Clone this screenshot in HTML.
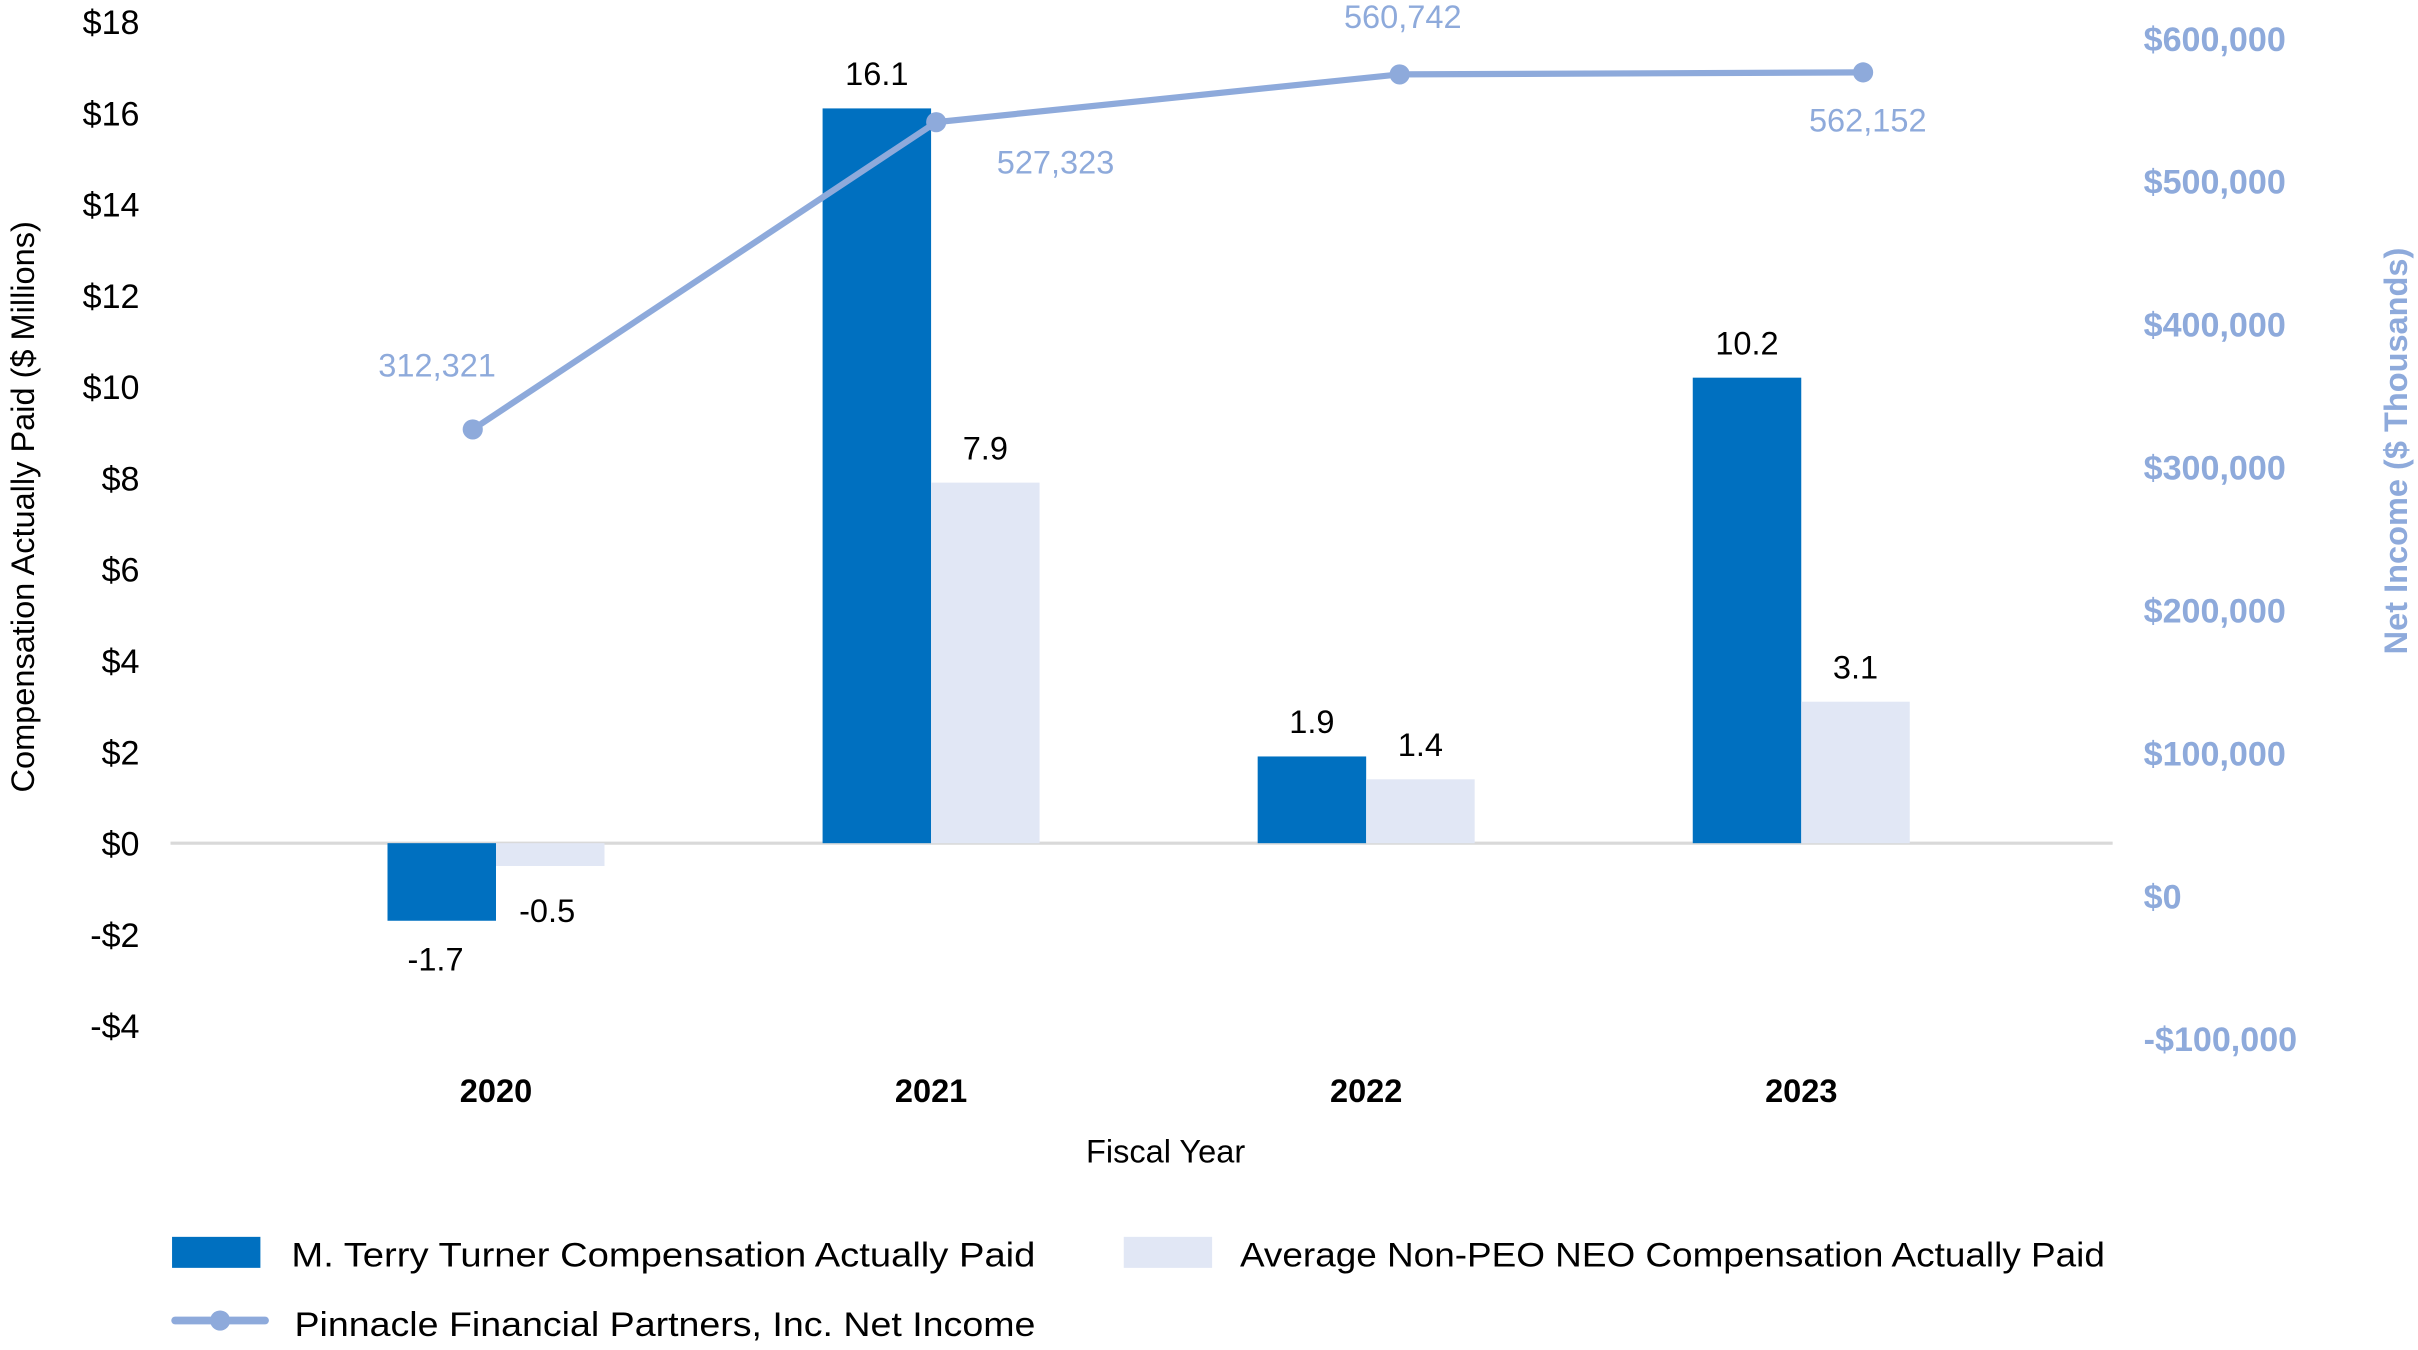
<!DOCTYPE html>
<html><head><meta charset="utf-8"><style>
html,body{margin:0;padding:0;background:#fff}
svg{display:block}
text{font-family:"Liberation Sans",sans-serif}
</style></head><body>
<svg id="chart" width="2418" height="1350" viewBox="0 0 1560 871" preserveAspectRatio="none" xmlns="http://www.w3.org/2000/svg">
<g id="g"></g>
</svg>
<script>
const categories = ["2020","2021","2022","2023"];
const turnerValues = [-1.7, 16.1, 1.9, 10.2];
const neoValues = [-0.5, 7.9, 1.4, 3.1];
const netIncome = [312321, 527323, 560742, 562152];
const netIncomeLabels = ["312,321","527,323","560,742","562,152"];
const leftTicks = [18,16,14,12,10,8,6,4,2,0,-2,-4];
const rightTicks = [600000,500000,400000,300000,200000,100000,0,-100000];

const NS = "http://www.w3.org/2000/svg";
const g = document.getElementById('g');
function el(tag, attrs, text){
  const e = document.createElementNS(NS, tag);
  for (const k in attrs) e.setAttribute(k, attrs[k]);
  if (text !== undefined) e.textContent = text;
  g.appendChild(e);
  return e;
}
// axis functions
const yL = v => 544 - v * (530/18);
const yR = v => 565 - v * (92.2/100000);
const xC = i => 320 + i * 280.7;
const xLine = i => 305 + i * 299;
const BW = 70;
const fmtMoney = v => (v < 0 ? "-$" : "$") + Math.abs(v).toLocaleString("en-US");

// left ticks
leftTicks.forEach(v => {
  const t = el('text', {x: 90, y: yL(v) + 8, 'text-anchor': 'end', 'font-size': 22, fill: '#000'}, fmtMoney(v));
  
  
});
// right ticks
rightTicks.forEach(v => {
  const t = el('text', {x: 1383, y: yR(v) + 21, 'text-anchor': 'start', 'font-size': 22, 'font-weight': 'bold', fill: '#8eaadb'}, fmtMoney(v));
  
  
});
// zero line
const zl = el('line', {x1: 110, x2: 1363, y1: yL(0), y2: yL(0), stroke: '#d9d9d9', 'stroke-width': 2});



// bars
categories.forEach((c, i) => {
  const cx = xC(i);
  const v1 = turnerValues[i], v2 = neoValues[i];
  const b1 = el('rect', {x: cx - BW, y: Math.min(yL(v1), yL(0)), width: BW, height: Math.abs(yL(v1) - yL(0)), fill: '#0070c0'});
  
  
  const b2 = el('rect', {x: cx, y: Math.min(yL(v2), yL(0)), width: BW, height: Math.abs(yL(v2) - yL(0)), fill: '#e1e7f5'});
  
  
  const l1y = v1 >= 0 ? yL(v1) - 15 : yL(v1) + 32;
  const l1 = el('text', {x: cx - BW/2 + (v1 < 0 ? -4 : 0), y: l1y, 'text-anchor': 'middle', 'font-size': 21, fill: '#000'}, v1.toFixed(1));
  
  
  const l2y = v2 >= 0 ? yL(v2) - 15 : yL(v2) + 36;
  const l2 = el('text', {x: cx + BW/2 + (v2 < 0 ? -2 : 0), y: l2y, 'text-anchor': 'middle', 'font-size': 21, fill: '#000'}, v2.toFixed(1));
  
  
  const cl = el('text', {x: cx, y: 711, 'text-anchor': 'middle', 'font-size': 21, 'font-weight': 'bold', fill: '#000'}, c);
  
  
});

// line
const pts = netIncome.map((v, i) => xLine(i) + ',' + yR(v)).join(' ');
const pl = el('polyline', {points: pts, fill: 'none', stroke: '#8eaadb', 'stroke-width': 4});


const labOff = [[-23,-34],[77,33],[2,-30],[3,38]];
netIncome.forEach((v, i) => {
  const p = el('circle', {cx: xLine(i), cy: yR(v), r: 6.5, fill: '#8eaadb'});
  
  
  const t = el('text', {x: xLine(i) + labOff[i][0], y: yR(v) + labOff[i][1], 'text-anchor': 'middle', 'font-size': 21, fill: '#8eaadb'}, netIncomeLabels[i]);
  
  
});

// axis titles
let t;
t = el('text', {x: 0, y: 0, transform: 'translate(22,327) rotate(-90)', 'text-anchor': 'middle', 'font-size': 21, fill: '#000'}, 'Compensation Actually Paid ($ Millions)');


t = el('text', {x: 0, y: 0, transform: 'translate(1553,291) rotate(-90)', 'text-anchor': 'middle', 'font-size': 21, 'font-weight': 'bold', fill: '#8eaadb'}, 'Net Income ($ Thousands)');


t = el('text', {x: 752, y: 750, 'text-anchor': 'middle', 'font-size': 21, fill: '#000'}, 'Fiscal Year');



// legend
let r = el('rect', {x: 111, y: 798, width: 57, height: 20, fill: '#0070c0'});


t = el('text', {x: 188, y: 817, 'font-size': 22, fill: '#000', textLength: 480, lengthAdjust: 'spacingAndGlyphs'}, 'M. Terry Turner Compensation Actually Paid');


r = el('rect', {x: 725, y: 798, width: 57, height: 20, fill: '#e1e7f5'});


t = el('text', {x: 800, y: 817, 'font-size': 22, fill: '#000', textLength: 558, lengthAdjust: 'spacingAndGlyphs'}, 'Average Non-PEO NEO Compensation Actually Paid');


let ln = el('line', {x1: 113, x2: 171, y1: 852, y2: 852, stroke: '#8eaadb', 'stroke-width': 5, 'stroke-linecap': 'round'});


let c = el('circle', {cx: 142, cy: 852, r: 6.5, fill: '#8eaadb'});


t = el('text', {x: 190, y: 862, 'font-size': 22, fill: '#000', textLength: 478, lengthAdjust: 'spacingAndGlyphs'}, 'Pinnacle Financial Partners, Inc. Net Income');


</script>
</body></html>
